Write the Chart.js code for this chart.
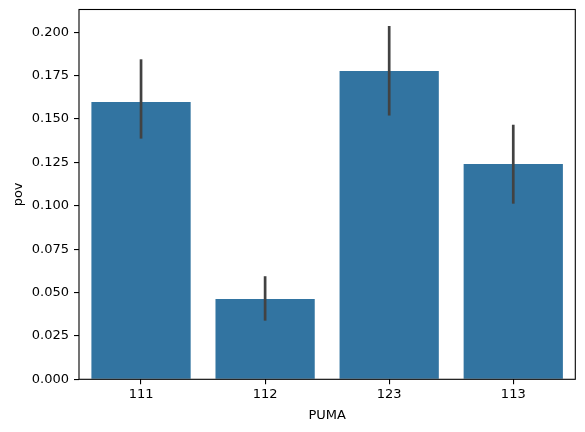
<!DOCTYPE html>
<html>
<head>
<meta charset="utf-8">
<script src="https://cdn.jsdelivr.net/npm/chart.js@4/dist/chart.umd.min.js"></script>
<style>
    html, body { margin: 0; padding: 0; background: #fff; }
    #wrap { width: 585px; height: 432px; }
</style>
</head>
<body>
<div id="wrap"><canvas id="povChart"></canvas></div>
<script>
// values
const pumaLabels = ['111', '112', '123', '113'];
const povMeans = [0.1598, 0.0463, 0.1777, 0.1241];
const ciLow = [0.1387, 0.0338, 0.1520, 0.1012];
const ciHigh = [0.1844, 0.0594, 0.2036, 0.1467];
const yTicks = [0, 0.025, 0.05, 0.075, 0.1, 0.125, 0.15, 0.175, 0.2];

const FONT = { family: 'DejaVu Sans', size: 13 };

// seaborn-style CI lines on top of each bar
const errorBars = {
    id: 'errorBars',
    afterDatasetsDraw(chart) {
        const ctx = chart.ctx;
        const x = chart.scales.x, y = chart.scales.y;
        ctx.save();
        ctx.strokeStyle = '#424242';
        ctx.lineWidth = 2.7;
        ctx.lineCap = 'butt';
        pumaLabels.forEach((lab, i) => {
            const px = x.getPixelForValue(i);
            ctx.beginPath();
            ctx.moveTo(px, y.getPixelForValue(ciLow[i]));
            ctx.lineTo(px, y.getPixelForValue(ciHigh[i]));
            ctx.stroke();
        });
        ctx.restore();
    }
};

// matplotlib spines on all four sides
const frame = {
    id: 'frame',
    afterDraw(chart) {
        const a = chart.chartArea;
        const ctx = chart.ctx;
        ctx.save();
        ctx.strokeStyle = '#000';
        ctx.lineWidth = 1.1;
        ctx.strokeRect(a.left, a.top, a.right - a.left, a.bottom - a.top);
        ctx.restore();
    }
};

const ctx = document.getElementById('povChart').getContext('2d');
new Chart(ctx, {
    type: 'bar',
    data: {
        labels: pumaLabels,
        datasets: [{
            label: 'pov',
            data: povMeans,
            backgroundColor: '#3274a1',
            borderWidth: 0,
            barPercentage: 0.8,
            categoryPercentage: 1.0
        }]
    },
    options: {
        responsive: true,
        maintainAspectRatio: false,
        animation: false,
        devicePixelRatio: 1,
        layout: { padding: { left: 0, top: 9.5, right: 9.7, bottom: 0 } },
        plugins: {
            legend: { display: false },
            tooltip: { enabled: false }
        },
        scales: {
            x: {
                offset: true,
                grid: { display: true, drawOnChartArea: false, offset: false, tickLength: 5, color: '#000', lineWidth: 1.1 },
                border: { display: false },
                ticks: { color: '#000', font: FONT, padding: 3, maxRotation: 0 },
                title: { display: true, text: 'PUMA', color: '#000', font: FONT, padding: { top: 0, bottom: 9 } },
                afterFit: s => { s.height = 52.7; s.paddingLeft = 0; s.paddingRight = 0; }
            },
            y: {
                min: 0,
                max: 0.2131,
                grid: { display: true, drawOnChartArea: false, tickLength: 5, color: '#000', lineWidth: 1.1 },
                border: { display: false },
                afterBuildTicks: s => { s.ticks = yTicks.map(v => ({ value: v })); },
                ticks: { color: '#000', font: FONT, padding: 5, callback: v => Number(v).toFixed(3) },
                title: { display: true, text: 'pov', color: '#000', font: FONT, padding: { top: 11, bottom: 0 } },
                afterFit: s => { s.width = 79; s.paddingTop = 0; s.paddingBottom = 0; }
            }
        }
    },
    plugins: [errorBars, frame]
});
</script>
</body>
</html>
